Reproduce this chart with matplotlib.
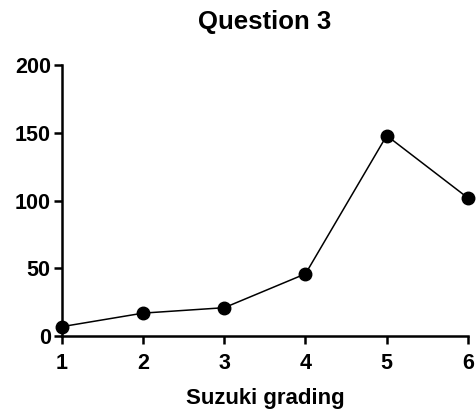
import matplotlib.pyplot as plt

grades = [1, 2, 3, 4, 5, 6]
counts = [7, 17, 21, 46, 148, 102]
y_ticks = [0, 50, 100, 150, 200]

plt.rcParams['font.family'] = ['Liberation Sans', 'DejaVu Sans']
plt.rcParams['font.weight'] = 'bold'

fig = plt.figure(figsize=(4.76, 4.15), dpi=100)
ax = fig.add_axes([0.130, 0.190, 0.853, 0.653])

ax.plot(grades, counts, color='black', linewidth=1.1, marker='o',
        markersize=9, markerfacecolor='black', markeredgecolor='black',
        clip_on=False, zorder=3)

ax.set_xlim(1, 6)
ax.set_ylim(0, 200)
ax.set_xticks(grades)
ax.set_yticks(y_ticks)

for side in ['top', 'right']:
    ax.spines[side].set_visible(False)
for side in ['left', 'bottom']:
    ax.spines[side].set_linewidth(1.8)

ax.tick_params(axis='both', direction='out', length=6, width=1.8,
               labelsize=15.5)
ax.tick_params(axis='x', pad=6)
ax.tick_params(axis='y', pad=2)
for lab in ax.get_xticklabels() + ax.get_yticklabels():
    lab.set_fontweight('bold')

ax.set_xlabel('Suzuki grading', fontsize=16, fontweight='bold', labelpad=10)
ax.set_title('Question 3', fontsize=18.5, fontweight='bold', pad=26)

fig.savefig('out.png', dpi=100)
